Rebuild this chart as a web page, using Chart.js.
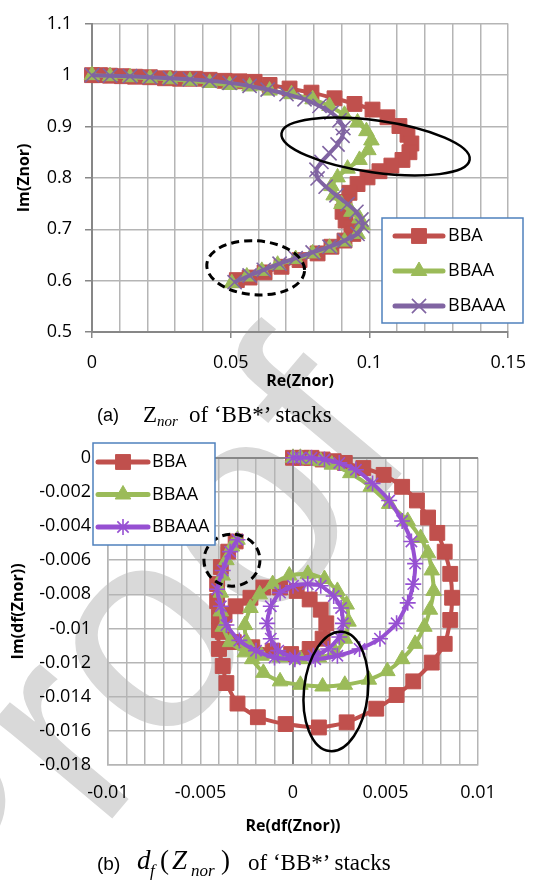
<!DOCTYPE html>
<html>
<head>
<meta charset="utf-8">
<script src="https://cdn.jsdelivr.net/npm/chart.js@4/dist/chart.umd.min.js"></script>
<style>
  html, body { margin: 0; padding: 0; background: #fff; }
  #page { position: relative; width: 540px; height: 882px; overflow: hidden; }
  #page canvas { position: absolute; left: 0; }
  #wm { top: 0; }
  #znorChart { top: 0; }
  #dfChart { top: 430px; }
  .cap { position: absolute; white-space: nowrap; line-height: 1; color: #000; }
  .sans { font-family: "Liberation Sans", Arial, sans-serif; }
  .serif { font-family: "Liberation Serif", "Times New Roman", serif; }
  .it { font-style: italic; }
</style>
</head>
<body>
<div id="page">
  <canvas id="wm" width="540" height="882"></canvas>
  <canvas id="znorChart" width="540" height="398"></canvas>
  <canvas id="dfChart" width="540" height="415"></canvas>

  <!-- caption (a) -->
  <span class="cap sans" style="left:97px; top:406px; font-size:18px;">(a)</span>
  <span class="cap serif" style="left:143px; top:403px; font-size:23px;">Z</span>
  <span class="cap serif it" style="left:157px; top:414px; font-size:15px;">nor</span>
  <span class="cap serif" style="left:189px; top:403px; font-size:23px;">of ‘BB*’ stacks</span>

  <!-- caption (b) -->
  <span class="cap sans" style="left:97px; top:854px; font-size:19px;">(b)</span>
  <span class="cap serif it" style="left:137px; top:847px; font-size:27px;">d</span>
  <span class="cap serif it" style="left:150px; top:862px; font-size:17px;">f</span>
  <span class="cap serif" style="left:160px; top:847px; font-size:27px;">(</span>
  <span class="cap serif it" style="left:172px; top:847px; font-size:27px;">Z</span>
  <span class="cap serif it" style="left:191px; top:862px; font-size:17px;">nor</span>
  <span class="cap serif" style="left:221px; top:847px; font-size:27px;">)</span>
  <span class="cap serif" style="left:248px; top:851px; font-size:23px;">of ‘BB*’ stacks</span>
</div>

<script>
// ---- Znor of 'BB*' stacks ----
const bbaRe = [0, 0.0029, 0.0065, 0.0108, 0.0155, 0.0209, 0.0263, 0.0317, 0.0371, 0.0424, 0.0478, 0.0532, 0.0586, 0.0640, 0.0712, 0.0791, 0.0874, 0.0946, 0.1011, 0.1065, 0.1108, 0.1137, 0.1151, 0.1144, 0.1119, 0.1079, 0.1036, 0.0993, 0.0957, 0.0928, 0.0910, 0.0903, 0.0914, 0.0935, 0.0942, 0.0910, 0.0863, 0.0813, 0.0748, 0.0683, 0.0622, 0.0568, 0.0522];
const bbaIm = [1, 1.000, 0.999, 0.998, 0.997, 0.996, 0.994, 0.993, 0.993, 0.991, 0.989, 0.988, 0.987, 0.981, 0.974, 0.966, 0.955, 0.944, 0.933, 0.918, 0.901, 0.884, 0.867, 0.850, 0.835, 0.824, 0.813, 0.801, 0.788, 0.771, 0.753, 0.734, 0.717, 0.704, 0.691, 0.678, 0.666, 0.653, 0.640, 0.627, 0.616, 0.606, 0.601];

const bbaaRe = [0, 0.0065, 0.0137, 0.0209, 0.0281, 0.0353, 0.0424, 0.0496, 0.0568, 0.0640, 0.0719, 0.0795, 0.0856, 0.0910, 0.0957, 0.0989, 0.1007, 0.0996, 0.0964, 0.0921, 0.0885, 0.0863, 0.0871, 0.0899, 0.0935, 0.0964, 0.0975, 0.0957, 0.0910, 0.0856, 0.0795, 0.0734, 0.0669, 0.0612, 0.0558, 0.0504];
const bbaaIm = [1, 0.998, 0.996, 0.994, 0.992, 0.989, 0.985, 0.981, 0.978, 0.970, 0.963, 0.953, 0.940, 0.923, 0.908, 0.891, 0.873, 0.854, 0.835, 0.818, 0.801, 0.784, 0.766, 0.749, 0.734, 0.721, 0.708, 0.691, 0.676, 0.664, 0.653, 0.642, 0.631, 0.619, 0.608, 0.595];

const bbaaaRe = [0, 0.0065, 0.0137, 0.0209, 0.0281, 0.0353, 0.0424, 0.0496, 0.0568, 0.0633, 0.0701, 0.0766, 0.0820, 0.0863, 0.0892, 0.0906, 0.0903, 0.0885, 0.0856, 0.0827, 0.0809, 0.0813, 0.0842, 0.0881, 0.0921, 0.0953, 0.0971, 0.0975, 0.0957, 0.0910, 0.0856, 0.0795, 0.0734, 0.0676, 0.0619, 0.0568, 0.0514];
const bbaaaIm = [1, 0.999, 0.998, 0.996, 0.994, 0.992, 0.989, 0.985, 0.979, 0.972, 0.963, 0.953, 0.940, 0.927, 0.912, 0.897, 0.882, 0.865, 0.848, 0.831, 0.816, 0.799, 0.783, 0.766, 0.749, 0.734, 0.719, 0.706, 0.691, 0.678, 0.666, 0.655, 0.644, 0.633, 0.621, 0.610, 0.597];

const znorReTicks = [0, 0.05, 0.1, 0.15];
const znorReLabels = ['0', '0.05', '0.1', '0.15'];
const znorImTicks = [0.5, 0.6, 0.7, 0.8, 0.9, 1, 1.1];
const znorImLabels = ['0.5', '0.6', '0.7', '0.8', '0.9', '1', '1.1'];

// ---- df(Znor) of 'BB*' stacks ----
const dfBbaRe = [0, 0.0005, 0.0010, 0.0016, 0.0022, 0.0028, 0.0038, 0.0049, 0.0059, 0.0067, 0.0073, 0.0078, 0.0082, 0.0085, 0.0086, 0.0085, 0.0082, 0.0075, 0.0065, 0.0056, 0.0045, 0.0029, 0.0014, -0.0004, -0.0019, -0.0030, -0.0036, -0.0038, -0.0040, -0.0040, -0.0037, -0.0031, -0.0023, -0.0016, -0.0007, 0.0002, 0.0009, 0.0015, 0.0018, 0.0016, 0.0009, -0.0001, -0.0011, -0.0022, -0.0032, -0.0038, -0.0040, -0.0041, -0.0041, -0.0039, -0.0035, -0.0031];
const dfBbaIm = [0, 0, 0, -0.0001, -0.0002, -0.0003, -0.0006, -0.0010, -0.0017, -0.0025, -0.0035, -0.0044, -0.0055, -0.0068, -0.0082, -0.0095, -0.0109, -0.0120, -0.0131, -0.0139, -0.0147, -0.0155, -0.0158, -0.0156, -0.0152, -0.0144, -0.0132, -0.0122, -0.0112, -0.0101, -0.0092, -0.0087, -0.0082, -0.0076, -0.0076, -0.0078, -0.0083, -0.0089, -0.0097, -0.0106, -0.0112, -0.0115, -0.0113, -0.0111, -0.0108, -0.0102, -0.0093, -0.0084, -0.0074, -0.0064, -0.0055, -0.0049];

const dfBbaaRe = [0, 0.0004, 0.0009, 0.0015, 0.0021, 0.0031, 0.0042, 0.0052, 0.0062, 0.0069, 0.0073, 0.0075, 0.0076, 0.0074, 0.0071, 0.0066, 0.0059, 0.0051, 0.0041, 0.0028, 0.0016, 0.0004, -0.0007, -0.0016, -0.0022, -0.0025, -0.0026, -0.0023, -0.0018, -0.0011, -0.0002, 0.0008, 0.0017, 0.0024, 0.0029, 0.0030, 0.0028, 0.0023, 0.0014, 0.0004, -0.0007, -0.0017, -0.0026, -0.0034, -0.0038, -0.0039, -0.0039, -0.0038, -0.0036, -0.0033, -0.0030];
const dfBbaaIm = [0, 0, -0.0001, -0.0002, -0.0004, -0.0009, -0.0017, -0.0027, -0.0037, -0.0047, -0.0056, -0.0066, -0.0078, -0.0089, -0.0099, -0.0109, -0.0118, -0.0125, -0.0130, -0.0133, -0.0134, -0.0133, -0.0131, -0.0126, -0.0118, -0.0108, -0.0098, -0.0088, -0.0080, -0.0074, -0.0069, -0.0068, -0.0071, -0.0078, -0.0086, -0.0096, -0.0106, -0.0114, -0.0117, -0.0118, -0.0117, -0.0116, -0.0114, -0.0108, -0.0099, -0.0090, -0.0079, -0.0069, -0.0060, -0.0052, -0.0048];

const dfBbaaaRe = [0, 0.0004, 0.0010, 0.0017, 0.0025, 0.0034, 0.0043, 0.0052, 0.0059, 0.0064, 0.0066, 0.0065, 0.0062, 0.0056, 0.0047, 0.0036, 0.0024, 0.0012, 0.0001, -0.0008, -0.0012, -0.0014, -0.0012, -0.0007, 0.0000, 0.0008, 0.0015, 0.0022, 0.0026, 0.0027, 0.0025, 0.0019, 0.0011, 0.0001, -0.0010, -0.0020, -0.0029, -0.0036, -0.0039, -0.0041, -0.0038, -0.0034, -0.0030];
const dfBbaaaIm = [0, 0, 0, -0.0001, -0.0003, -0.0007, -0.0015, -0.0025, -0.0037, -0.0049, -0.0062, -0.0074, -0.0085, -0.0097, -0.0106, -0.0112, -0.0116, -0.0118, -0.0117, -0.0113, -0.0106, -0.0097, -0.0087, -0.0079, -0.0075, -0.0074, -0.0075, -0.0081, -0.0088, -0.0097, -0.0105, -0.0112, -0.0116, -0.0118, -0.0117, -0.0113, -0.0107, -0.0098, -0.0087, -0.0077, -0.0066, -0.0055, -0.0048];

const dfReTicks = [-0.01, -0.005, 0, 0.005, 0.01];
const dfReLabels = ['-0.01', '-0.005', '0', '0.005', '0.01'];
const dfImTicks = [-0.018, -0.016, -0.014, -0.012, -0.01, -0.008, -0.006, -0.004, -0.002, 0];
const dfImLabels = ['-0.018', '-0.016', '-0.014', '-0.012', '-0.01', '-0.008', '-0.006', '-0.004', '-0.002', '0'];

const seriesNames = ['BBA', 'BBAA', 'BBAAA'];

const RED = '#c0504d';
const GREEN = '#9bbb59';
const PURPLE = '#8064a2';
const VIOLET = '#9650d2';
const GRID = '#b5b5b5';
const AXIS = '#878787';

Chart.defaults.font.family = '"Open Sans", sans-serif';
Chart.defaults.color = '#000';

const makePoints = (xs, ys) => xs.map((x, i) => ({ x: x, y: ys[i] }));
const isOn = (ticks, v) => ticks.some(t => Math.abs(t - v) < 1e-9);
const labelFor = (ticks, labels) => v => {
  const i = ticks.findIndex(t => Math.abs(t - v) < 1e-9);
  return i >= 0 ? labels[i] : '';
};

function series(label, xs, ys, color, style, radius, order) {
  return {
    label: label,
    data: makePoints(xs, ys),
    showLine: true,
    borderColor: color,
    backgroundColor: color,
    borderWidth: 4,
    tension: 0.2,
    pointStyle: style,
    pointRadius: radius,
    pointBackgroundColor: color,
    pointBorderColor: color,
    pointBorderWidth: (style === 'rect' || style === 'triangle') ? 1 : 1.6,
    clip: false,
    order: order
  };
}

/* ellipses + boxed legend drawn on top of the series */
const decor = {
  id: 'decor',
  afterDatasetsDraw(chart, args, opts) {
    const ctx = chart.ctx;
    const xs = chart.scales.x, ys = chart.scales.y;

    (opts.ellipses || []).forEach(e => {
      ctx.save();
      ctx.beginPath();
      ctx.ellipse(xs.getPixelForValue(e.re), ys.getPixelForValue(e.im), e.rx, e.ry,
        e.rot * Math.PI / 180, 0, Math.PI * 2);
      ctx.setLineDash(e.dash || []);
      ctx.lineWidth = e.width;
      ctx.strokeStyle = '#000';
      ctx.stroke();
      ctx.restore();
    });

    const lg = opts.legend;
    if (!lg) return;
    ctx.save();
    ctx.fillStyle = '#fff';
    ctx.fillRect(lg.x, lg.y, lg.w, lg.h);
    ctx.strokeStyle = '#4f81bd';
    ctx.lineWidth = 1.5;
    ctx.strokeRect(lg.x, lg.y, lg.w, lg.h);
    ctx.font = '18px "Open Sans"';
    ctx.textBaseline = 'middle';
    chart.data.datasets.forEach((ds, i) => {
      const y = lg.y + lg.rowTop + i * lg.rowGap;
      ctx.strokeStyle = ds.borderColor;
      ctx.lineWidth = 5;
      ctx.lineCap = 'round';
      ctx.beginPath();
      ctx.moveTo(lg.x + lg.line0, y);
      ctx.lineTo(lg.x + lg.line1, y);
      ctx.stroke();
      ctx.lineCap = 'butt';
      ctx.fillStyle = ds.pointBackgroundColor;
      ctx.strokeStyle = ds.pointBorderColor;
      ctx.lineWidth = ds.pointBorderWidth;
      Chart.helpers.drawPoint(ctx, {
        pointStyle: ds.pointStyle, radius: ds.pointRadius,
        borderWidth: ds.pointBorderWidth, rotation: 0
      }, lg.x + (lg.line0 + lg.line1) / 2, y);
      ctx.fillStyle = '#000';
      ctx.fillText(ds.label, lg.x + lg.textX, y);
    });
    ctx.restore();
  }
};

// faint "Proof" stamp running diagonally behind both plots
function drawWatermark() {
  const ctx = document.getElementById('wm').getContext('2d');
  ctx.save();
  ctx.translate(-25, 982);
  ctx.rotate(-50 * Math.PI / 180);
  ctx.font = '290px "Liberation Sans"';
  ctx.fillStyle = '#d9d9d9';
  ctx.fillText('Proof', 0, 0);
  ctx.restore();
}

function buildZnor() {
  new Chart(document.getElementById('znorChart'), {
    type: 'scatter',
    data: {
      datasets: [
        series(seriesNames[0], bbaRe, bbaIm, RED, 'rect', 10.5, 3),
        series(seriesNames[1], bbaaRe, bbaaIm, GREEN, 'triangle', 9, 2),
        series(seriesNames[2], bbaaaRe, bbaaaIm, PURPLE, 'crossRot', 10, 1)
      ]
    },
    options: {
      responsive: false,
      animation: false,
      devicePixelRatio: 1,
      layout: { padding: { top: 12, right: 31, left: 0, bottom: 0 } },
      plugins: {
        legend: { display: false },
        tooltip: { enabled: false },
        decor: {
          ellipses: [
            { re: 0.1022, im: 0.861, rx: 95, ry: 26, rot: 8, width: 2.5 },
            { re: 0.0590, im: 0.625, rx: 49, ry: 27, rot: 4, width: 3, dash: [8, 5] }
          ],
          legend: { x: 382, y: 218, w: 141, h: 105, rowTop: 18, rowGap: 35, line0: 13, line1: 61, textX: 66 }
        }
      },
      scales: {
        x: {
          type: 'linear', min: 0, max: 0.15,
          afterFit: s => { s.height = 66; },
          ticks: {
            stepSize: 0.01, autoSkip: false, maxRotation: 0, minRotation: 0, padding: 14,
            font: { size: 18 }, callback: labelFor(znorReTicks, znorReLabels)
          },
          grid: {
            color: GRID, lineWidth: 1.5, tickLength: 6,
            tickColor: c => (c.tick && isOn(znorReTicks, c.tick.value)) ? AXIS : 'rgba(0,0,0,0)'
          },
          border: { color: AXIS, width: 2 },
          title: { display: true, text: 'Re(Znor)', font: { size: 16, weight: 'bold' }, padding: { top: 0, bottom: 7 } }
        },
        y: {
          type: 'linear', min: 0.5, max: 1.1,
          afterFit: s => { s.width = 92; },
          ticks: {
            stepSize: 0.1, autoSkip: false, padding: 13,
            font: { size: 18 }, callback: labelFor(znorImTicks, znorImLabels)
          },
          grid: { color: GRID, lineWidth: 1.5, tickLength: 7, tickColor: AXIS },
          border: { color: AXIS, width: 2 },
          title: { display: true, text: 'Im(Znor)', font: { size: 16, weight: 'bold' }, padding: { top: 15, bottom: 0 } }
        }
      }
    },
    plugins: [decor]
  });
}

function buildDf() {
  const zeroLine = c => (c.tick && Math.abs(c.tick.value) < 1e-12) ? AXIS : GRID;
  const zeroWidth = c => (c.tick && Math.abs(c.tick.value) < 1e-12) ? 2 : 1.5;
  new Chart(document.getElementById('dfChart'), {
    type: 'scatter',
    data: {
      datasets: [
        series(seriesNames[0], dfBbaRe, dfBbaIm, RED, 'rect', 10.5, 3),
        series(seriesNames[1], dfBbaaRe, dfBbaaIm, GREEN, 'triangle', 9, 2),
        series(seriesNames[2], dfBbaaaRe, dfBbaaaIm, VIOLET, 'star', 8, 1)
      ]
    },
    options: {
      responsive: false,
      animation: false,
      devicePixelRatio: 1,
      layout: { padding: { top: 22, right: 62, left: 0, bottom: 0 } },
      plugins: {
        legend: { display: false },
        tooltip: { enabled: false },
        decor: {
          ellipses: [
            { re: -0.0033, im: -0.0060, rx: 28, ry: 26, rot: 0, width: 3, dash: [8, 5] },
            { re: 0.00232, im: -0.01369, rx: 32, ry: 60, rot: 6, width: 2.5 }
          ],
          legend: { x: 93, y: 13, w: 122, h: 102, rowTop: 19, rowGap: 32.5, line0: 5, line1: 55, textX: 59 }
        }
      },
      scales: {
        x: {
          type: 'linear', min: -0.01, max: 0.01,
          afterFit: s => { s.height = 80; },
          ticks: {
            stepSize: 0.001, autoSkip: false, maxRotation: 0, minRotation: 0, padding: 17,
            font: { size: 18 }, callback: labelFor(dfReTicks, dfReLabels)
          },
          grid: { color: zeroLine, lineWidth: zeroWidth, drawTicks: false },
          border: { color: GRID, width: 1.5 },
          title: { display: true, text: 'Re(df(Znor))', font: { size: 16, weight: 'bold' }, padding: { top: 0, bottom: 9 } }
        },
        y: {
          type: 'linear', min: -0.018, max: 0,
          afterFit: s => { s.width = 108; },
          ticks: {
            stepSize: 0.002, autoSkip: false, padding: 17,
            font: { size: 18 }, callback: labelFor(dfImTicks, dfImLabels)
          },
          grid: { color: zeroLine, lineWidth: zeroWidth, drawTicks: false },
          border: { color: GRID, width: 1.5 },
          title: { display: true, text: 'Im(df(Znor))', font: { size: 16, weight: 'bold' }, padding: { top: 9, bottom: 0 } }
        }
      }
    },
    plugins: [decor]
  });
}

drawWatermark();
buildZnor();
buildDf();
</script>
</body>
</html>
